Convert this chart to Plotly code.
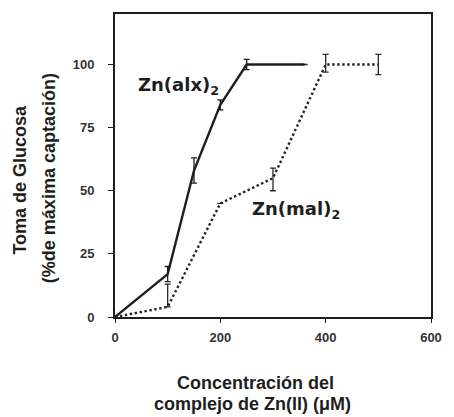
import plotly.graph_objects as go

alx_x = [0, 100, 150, 200, 250, 360]
alx_y = [0, 17, 58, 84, 100, 100]
alx_err = [0, 3, 5, 2, 2, 0]

mal_x = [0, 100, 200, 300, 400, 500]
mal_y = [0, 4, 45, 55, 100, 100]
mal_err_plus = [0, 9, 0, 4, 4, 4]
mal_err_minus = [0, 0, 0, 5, 3, 4]

x_ticks = [0, 200, 400, 600]
y_ticks = [0, 25, 50, 75, 100]

ink = "#1e1e1e"
font = "Liberation Sans, Arial, sans-serif"
wide = "DejaVu Sans, sans-serif"

W, H = 454, 417
L, R, T, B = 115, 18, 12, 100
pw, ph = W - L - R, H - T - B


def px(x):
    return (x - L) / pw


def py(y):
    return (H - B - y) / ph


fig = go.Figure()
fig.add_trace(go.Scatter(
    x=alx_x, y=alx_y, mode="lines",
    line=dict(color=ink, width=2.4),
    error_y=dict(type="data", array=alx_err, symmetric=True, color=ink, thickness=1.3, width=3),
    showlegend=False,
))
fig.add_trace(go.Scatter(
    x=mal_x, y=mal_y, mode="lines",
    line=dict(color="#222222", width=2.4, dash="2.4px,2.6px"),
    error_y=dict(type="data", array=mal_err_plus, arrayminus=mal_err_minus, symmetric=False,
                 color="#2a2a2a", thickness=1.3, width=3),
    showlegend=False,
))

fig.add_annotation(x=px(136), y=py(84), xref="paper", yref="paper",
                   text="<b>Zn(alx)<sub>2</sub></b>", showarrow=False, xanchor="left", yanchor="middle",
                   font=dict(family=wide, size=18, color=ink))
fig.add_annotation(x=px(252), y=py(209), xref="paper", yref="paper",
                   text="<b>Zn(mal)<sub>2</sub></b>", showarrow=False, xanchor="left", yanchor="middle",
                   font=dict(family=wide, size=18, color=ink))

# axis titles
fig.add_annotation(x=px(6), y=py(179), xref="paper", yref="paper", text="<b>Toma de Glucosa</b>",
                   textangle=-90, showarrow=False, font=dict(family=font, size=18, color=ink))
fig.add_annotation(x=px(36), y=py(177), xref="paper", yref="paper", text="<b>(%de máxima captación)</b>",
                   textangle=-90, showarrow=False, font=dict(family=font, size=18, color=ink))
fig.add_annotation(x=px(258), y=py(396), xref="paper", yref="paper", text="<b>Concentración del</b>",
                   showarrow=False, font=dict(family=font, size=18, color=ink))
fig.add_annotation(x=px(255), y=py(417), xref="paper", yref="paper", text="<b>complejo de Zn(II) (μM)</b>",
                   showarrow=False, font=dict(family=font, size=18, color=ink))

fig.update_layout(
    width=W, height=H,
    margin=dict(l=L, r=R, t=T, b=B),
    paper_bgcolor="white", plot_bgcolor="white",
    font=dict(family=font, color="#333333"),
)
fig.update_xaxes(range=[0, 600], tickvals=x_ticks, ticktext=[f"<b>{v}</b>" for v in x_ticks],
                 showgrid=False, zeroline=False, showline=True, mirror=True,
                 linecolor=ink, linewidth=2, ticks="outside", ticklen=4, tickcolor=ink,
                 tickfont=dict(size=13, color="#333333"), ticklabelstandoff=3)
fig.update_yaxes(range=[0, 120], tickvals=y_ticks, ticktext=[f"<b>{v}</b>" for v in y_ticks],
                 showgrid=False, zeroline=False, showline=True, mirror=True,
                 linecolor=ink, linewidth=2, ticks="outside", ticklen=5, tickcolor=ink,
                 tickfont=dict(size=13, color="#333333"), ticklabelstandoff=11)

fig.write_html("out.html")
